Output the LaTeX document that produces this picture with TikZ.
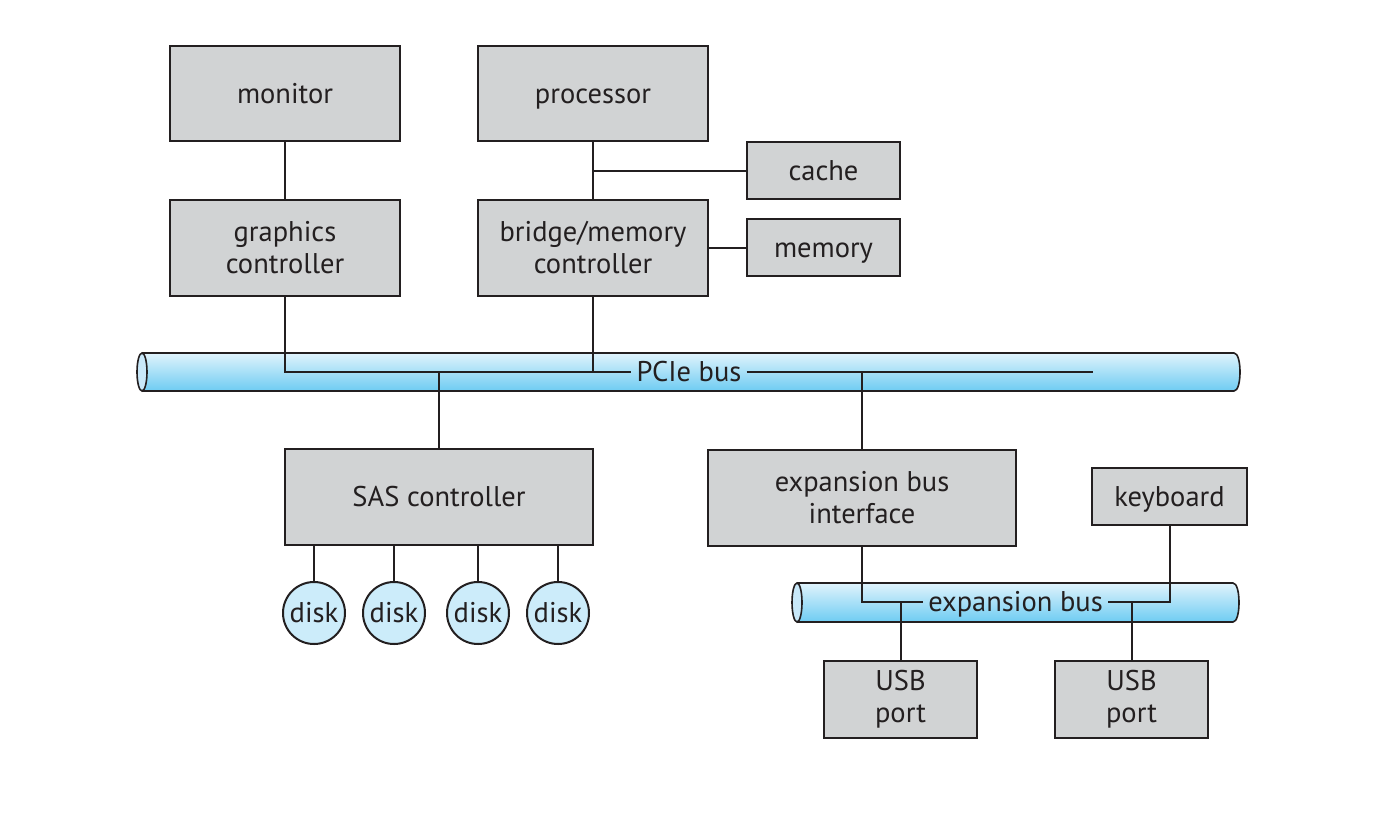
\documentclass[tikz,border=0pt]{standalone}
\usepackage{fontspec}
\setmainfont{PT Sans}
\usetikzlibrary{calc}
\definecolor{boxgray}{RGB}{209,211,212}
\definecolor{linec}{RGB}{35,31,32}
\definecolor{bustop}{RGB}{224,243,252}
\definecolor{busbot}{RGB}{110,204,242}
\definecolor{busend}{RGB}{200,232,249}
\definecolor{diskfill}{RGB}{204,236,250}
\tikzset{
  box/.style={draw=linec, line width=2pt, fill=boxgray, inner sep=0pt, align=center,
    font=\fontsize{28.5}{32}\selectfont, text=linec},
  oneline/.style={text height=23pt, text depth=4pt},
  diskn/.style={draw=linec, line width=2pt, fill=diskfill, circle, inner sep=0pt,
    minimum size=62pt, font=\fontsize{28.5}{32}\selectfont, text=linec, text height=23pt, text depth=4pt},
  conn/.style={draw=linec, line width=2pt},
  buslabel/.style={inner sep=0pt, inner xsep=5pt, font=\fontsize{28.5}{32}\selectfont, text=linec, text height=23pt, text depth=4pt},
  busline/.style={draw=linec, line width=1.6pt}
}
\begin{document}
\begin{tikzpicture}[x=1pt,y=-1pt]
\useasboundingbox (0,0) rectangle (1380,838);
% PCIe bus cylinder
\shade[top color=bustop, bottom color=busbot] (142,353) -- (1234,353) .. controls (1242,353) and (1242,391) .. (1234,391) -- (142,391) -- cycle;
\draw[busline] (142,353) -- (1234,353) .. controls (1242,353) and (1242,391) .. (1234,391) -- (142,391);
\draw[busline, fill=busend] (142,372) ellipse[x radius=5, y radius=19];
% expansion bus cylinder
\shade[top color=bustop, bottom color=busbot] (797,583) -- (1233,583) .. controls (1241,583) and (1241,622) .. (1233,622) -- (797,622) -- cycle;
\draw[busline] (797,583) -- (1233,583) .. controls (1241,583) and (1241,622) .. (1233,622) -- (797,622);
\draw[busline, fill=busend] (797,602.5) ellipse[x radius=5, y radius=19.5];

% boxes
\node[box, oneline, minimum width=230pt, minimum height=95pt] (monitor) at (285,93.5) {monitor};
\node[box, oneline, minimum width=230pt, minimum height=95pt] (processor) at (593,93.5) {processor};
\node[box, oneline, minimum width=153pt, minimum height=57pt] (cache) at (823.5,170.5) {cache};
\node[box, minimum width=230pt, minimum height=96pt] (graphics) at (285,248) {graphics\\controller};
\node[box, minimum width=230pt, minimum height=96pt] (bridge) at (593,248) {bridge/memory\\controller};
\node[box, oneline, minimum width=153pt, minimum height=57pt] (memory) at (823.5,247.5) {memory};
\node[box, oneline, minimum width=308pt, minimum height=96pt] (sas) at (439,497) {SAS controller};
\node[box, minimum width=308pt, minimum height=96pt] (ebi) at (862,498) {expansion bus\\interface};
\node[box, oneline, minimum width=155pt, minimum height=57pt] (keyboard) at (1169.5,496.5) {keyboard};
\node[box, minimum width=153pt, minimum height=77pt] (usb1) at (900.5,699) {USB\\port};
\node[box, minimum width=153pt, minimum height=77pt] (usb2) at (1131.5,699) {USB\\port};
\node[diskn] (d1) at (314,613) {disk};
\node[diskn] (d2) at (394,613) {disk};
\node[diskn] (d3) at (478,613) {disk};
\node[diskn] (d4) at (558,613) {disk};

% bus labels
\node[buslabel] (pcie) at (689,372) {PCIe bus};
\coordinate (pcieend) at (1093,372);
\node[buslabel] (exbus) at (1015.5,602) {expansion bus};

% connectors
\draw[conn] (monitor.south) -- (graphics.north);
\draw[conn] (processor.south) -- (bridge.north);
\draw[conn] (cache.west) -- (cache.west -| processor.south);
\draw[conn] (memory.west) -- (memory.west -| bridge.east);
\draw[conn] (graphics.south) -- (graphics.south |- pcie.west) -- (pcie.west);
\draw[conn] (bridge.south) -- (bridge.south |- pcie.west);
\draw[conn] (pcie.east) -- (pcieend);
\draw[conn] (sas.north) -- (sas.north |- pcie.west);
\draw[conn] (ebi.north) -- (ebi.north |- pcie.west);
\foreach \d in {d1,d2,d3,d4}
  \draw[conn] (\d.north) -- (\d.north |- sas.south);
\draw[conn] (ebi.south) -- (ebi.south |- exbus.west) -- (exbus.west);
\draw[conn] (keyboard.south) -- (keyboard.south |- exbus.east) -- (exbus.east);
\draw[conn] (usb1.north) -- (usb1.north |- exbus.west);
\draw[conn] (usb2.north) -- (usb2.north |- exbus.west);
\end{tikzpicture}
\end{document}
